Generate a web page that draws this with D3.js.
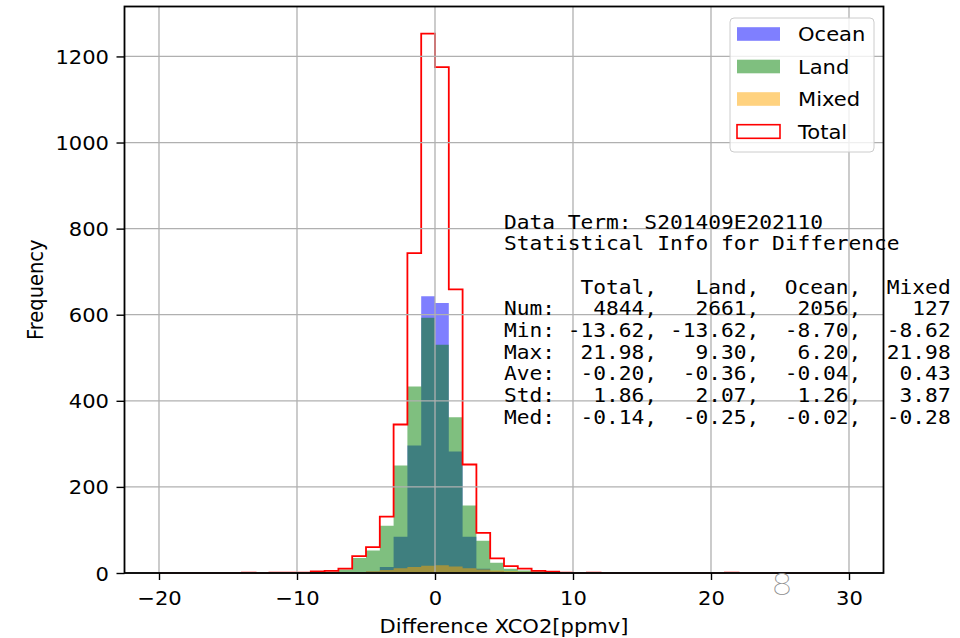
<!DOCTYPE html>
<html lang="en">
<head>
<meta charset="UTF-8">
<title>Difference XCO2 histogram</title>
<script src="https://d3js.org/d3.v7.min.js"></script>
<style>
  body { margin: 0; background: #fff; }
  svg { display: block; }
  text { font-family: "DejaVu Sans", sans-serif; fill: #000; }
  .mono { font-family: "DejaVu Sans Mono", monospace; white-space: pre; }
</style>
</head>
<body>
<svg width="960" height="638"></svg>
<script>
// bins of width 1 from -20 to 30 (left edges)
const binLefts = d3.range(-20, 30, 1);
const binWidth = 1;

// counts per bin, rows of 10 bins: [-20..-11], [-10..-1], [0..9], [10..19], [20..29]
const ocean = [
  0, 0, 0, 0, 0, 0, 0, 0, 0, 0,
  0, 1, 1, 1, 2, 4, 14, 84, 296, 643,
  627, 282, 84, 10, 4, 2, 1, 0, 0, 0,
  0, 0, 0, 0, 0, 0, 0, 0, 0, 0,
  0, 0, 0, 0, 0, 0, 0, 0, 0, 0
];
const land = [
  0, 0, 0, 0, 0, 0, 1, 0, 1, 1,
  1, 2, 3, 8, 35, 52, 110, 250, 433, 593,
  530, 362, 157, 75, 24, 10, 6, 4, 2, 1,
  0, 0, 0, 0, 0, 0, 0, 0, 0, 0,
  0, 0, 0, 0, 0, 0, 0, 0, 0, 0
];
const mixed = [
  0, 0, 0, 0, 0, 0, 0, 0, 0, 0,
  0, 1, 1, 1, 2, 4, 7, 11, 14, 17,
  18, 15, 11, 8, 6, 4, 3, 1, 1, 0,
  0, 1, 0, 0, 0, 0, 0, 0, 0, 0,
  0, 1, 0, 0, 0, 0, 0, 0, 0, 0
];
const total = [
  0, 0, 0, 0, 0, 0, 1, 0, 1, 1,
  1, 4, 5, 10, 39, 60, 131, 345, 743, 1253,
  1175, 659, 252, 93, 34, 16, 10, 5, 3, 1,
  0, 1, 0, 0, 0, 0, 0, 0, 0, 0,
  0, 1, 0, 0, 0, 0, 0, 0, 0, 0
];

const xTicks = [-20, -10, 0, 10, 20, 30];
const yTicks = [0, 200, 400, 600, 800, 1000, 1200];

// statistics box
const dataTerm = "S201409E202110";
const statCols = ["Total", "Land", "Ocean", "Mixed"];
const statNum = [4844, 2661, 2056, 127];
const statMin = [-13.62, -13.62, -8.70, -8.62];
const statMax = [21.98, 9.30, 6.20, 21.98];
const statAve = [-0.20, -0.36, -0.04, 0.43];
const statStd = [1.86, 2.07, 1.26, 3.87];
const statMed = [-0.14, -0.25, -0.02, -0.28];

const svg = d3.select("svg");
const FS = 19.5, SX = 1.08;      // sans text size and horizontal stretch
const FSM = 19, SXM = 1.116;     // mono text
const plot = { left: 124.5, right: 883.5, top: 6.5, bottom: 573 };

const x = d3.scaleLinear().domain([-22.5, 32.5]).range([plot.left, plot.right]);
const y = d3.scaleLinear().domain([0, 1316]).range([plot.bottom, plot.top]);

function stretchText(g, px, py, str, sx, rot) {
  return g.append("text")
    .attr("transform", `translate(${px},${py}) scale(${sx},1)` + (rot ? ` rotate(${rot})` : ""))
    .text(str);
}

// filled histograms (drawn in order, half transparent)
const series = [
  { name: "Ocean", values: ocean, color: "#0000ff" },
  { name: "Land", values: land, color: "#008000" },
  { name: "Mixed", values: mixed, color: "#ffa500" }
];
const stepPts = vals => binLefts.map((b, i) => [b, vals[i]])
  .concat([[binLefts[binLefts.length - 1] + binWidth, vals[vals.length - 1]]]);

const area = d3.area()
  .x(d => x(d[0])).y0(y(0)).y1(d => y(d[1]))
  .curve(d3.curveStepAfter);

svg.append("g").selectAll("path")
  .data(series)
  .join("path")
  .attr("d", s => area(stepPts(s.values)))
  .attr("fill", s => s.color)
  .attr("fill-opacity", 0.5);

// total as step outline
const first = binLefts[0], last = binLefts[binLefts.length - 1] + binWidth;
const totalPts = [[first, 0]].concat(stepPts(total)).concat([[last, 0]]);
svg.append("path")
  .attr("d", d3.line().x(d => x(d[0])).y(d => y(d[1])).curve(d3.curveStepAfter)(totalPts))
  .attr("fill", "none")
  .attr("stroke", "#ff0000")
  .attr("stroke-width", 1.8);

// grid
const grid = svg.append("g").attr("stroke", "#b0b0b0").attr("stroke-width", 1.3);
grid.selectAll(".gx").data(xTicks).join("line")
  .attr("x1", d => x(d)).attr("x2", d => x(d))
  .attr("y1", plot.top).attr("y2", plot.bottom);
grid.selectAll(".gy").data(yTicks).join("line")
  .attr("y1", d => y(d)).attr("y2", d => y(d))
  .attr("x1", plot.left).attr("x2", plot.right);

// axes
const xAxis = svg.append("g")
  .attr("transform", `translate(0,${plot.bottom})`)
  .call(d3.axisBottom(x).tickValues(xTicks).tickSize(7).tickPadding(0).tickFormat(d3.format("d")));
xAxis.select(".domain").remove();
xAxis.selectAll(".tick line").attr("stroke", "#000").attr("stroke-width", 1.4);
xAxis.selectAll(".tick text")
  .attr("y", 32).attr("dy", null)
  .attr("transform", `scale(${SX},1)`)
  .style("font-size", FS + "px");

const yAxis = svg.append("g")
  .attr("transform", `translate(${plot.left},0)`)
  .call(d3.axisLeft(y).tickValues(yTicks).tickSize(8).tickPadding(0).tickFormat(d3.format("d")));
yAxis.select(".domain").remove();
yAxis.selectAll(".tick line").attr("stroke", "#000").attr("stroke-width", 1.4);
yAxis.selectAll(".tick text")
  .attr("x", -15.5 / SX).attr("dy", "0.36em")
  .attr("transform", `scale(${SX},1)`)
  .style("font-size", FS + "px");

// frame
svg.append("rect")
  .attr("x", plot.left).attr("y", plot.top)
  .attr("width", plot.right - plot.left).attr("height", plot.bottom - plot.top)
  .attr("fill", "none").attr("stroke", "#000").attr("stroke-width", 1.8);

// axis labels
const labels = svg.append("g").style("font-size", FS + "px").attr("text-anchor", "middle");
stretchText(labels, (plot.left + plot.right) / 2, 633, "Difference XCO2[ppmv]", SX);
stretchText(labels, 43, (plot.top + plot.bottom) / 2, "Frequency", SX, -90);

// statistics text
const pad = (s, n) => String(s).padStart(n, " ");
const row = (name, vals, dec) => name + ":" + vals.map(v => pad(v.toFixed(dec), 7)).join(",");
const statLines = [
  "Data Term: " + dataTerm,
  "Statistical Info for Difference",
  "",
  "    " + statCols.map(c => pad(c, 7)).join(","),
  row("Num", statNum, 0),
  row("Min", statMin, 2),
  row("Max", statMax, 2),
  row("Ave", statAve, 2),
  row("Std", statStd, 2),
  row("Med", statMed, 2)
];
const stats = svg.append("g").attr("class", "mono").style("font-size", FSM + "px");
statLines.forEach((t, i) => {
  stretchText(stats, 504, 228.5 + i * 21.67, t, SXM).attr("xml:space", "preserve").attr("class", "mono");
});

// legend
const legend = svg.append("g");
legend.append("rect")
  .attr("x", 730).attr("y", 18).attr("width", 144).attr("height", 134).attr("rx", 4)
  .attr("fill", "#fff").attr("fill-opacity", 0.8)
  .attr("stroke", "#cccccc").attr("stroke-width", 1);
const legendItems = series.map(s => ({ name: s.name, fill: s.color, opacity: 0.5, stroke: "none" }))
  .concat([{ name: "Total", fill: "#fff", opacity: 1, stroke: "#ff0000" }]);
legendItems.forEach((d, i) => {
  const cy = 34 + i * 32.5;
  legend.append("rect")
    .attr("x", 737).attr("y", cy - 6.8).attr("width", 43).attr("height", 13.6)
    .attr("fill", d.fill).attr("fill-opacity", d.opacity)
    .attr("stroke", d.stroke).attr("stroke-width", 1.6);
  stretchText(legend, 798, cy + 7, d.name, SX).style("font-size", FS + "px");
});

// stray glyph near the bottom axis
svg.append("text")
  .attr("transform", `translate(782,595) scale(${SX},1)`)
  .attr("text-anchor", "middle")
  .style("font-family", "Roboto, Inter, 'DejaVu Sans', sans-serif")
  .style("font-weight", 100)
  .style("font-size", "31px")
  .style("fill", "#8f8f8f")
  .text("8");
</script>
</body>
</html>
